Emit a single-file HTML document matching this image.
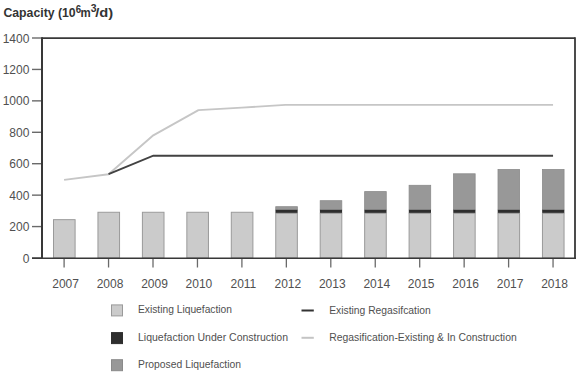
<!DOCTYPE html><html><head><meta charset="utf-8"><style>html,body{margin:0;padding:0;background:#fff;}svg{display:block;font-family:"Liberation Sans",sans-serif;}</style></head><body>
<svg width="580" height="379" viewBox="0 0 580 379">
<g fill="#333" style="font-weight:bold">
<text x="3.4" y="16.9" font-size="12.8" textLength="72.3" lengthAdjust="spacingAndGlyphs">Capacity (10</text>
<text x="75.7" y="12.6" font-size="10" textLength="5.4" lengthAdjust="spacingAndGlyphs">6</text>
<text x="80.5" y="16.9" font-size="12.8" textLength="10.2" lengthAdjust="spacingAndGlyphs">m</text>
<text x="90.7" y="12.1" font-size="10" textLength="5.8" lengthAdjust="spacingAndGlyphs">3</text>
<text x="95.2" y="16.9" font-size="12.8" textLength="18" lengthAdjust="spacingAndGlyphs">/d)</text>
</g>
<line x1="32" y1="258.00" x2="42" y2="258.00" stroke="#6a6a6a" stroke-width="1.4"/>
<text x="29.4" y="262.60" font-size="12" fill="#505050" text-anchor="end">0</text>
<line x1="32" y1="226.57" x2="42" y2="226.57" stroke="#6a6a6a" stroke-width="1.4"/>
<text x="29.4" y="231.17" font-size="12" fill="#505050" text-anchor="end">200</text>
<line x1="32" y1="195.14" x2="42" y2="195.14" stroke="#6a6a6a" stroke-width="1.4"/>
<text x="29.4" y="199.74" font-size="12" fill="#505050" text-anchor="end">400</text>
<line x1="32" y1="163.71" x2="42" y2="163.71" stroke="#6a6a6a" stroke-width="1.4"/>
<text x="29.4" y="168.31" font-size="12" fill="#505050" text-anchor="end">600</text>
<line x1="32" y1="132.29" x2="42" y2="132.29" stroke="#6a6a6a" stroke-width="1.4"/>
<text x="29.4" y="136.89" font-size="12" fill="#505050" text-anchor="end">800</text>
<line x1="32" y1="100.86" x2="42" y2="100.86" stroke="#6a6a6a" stroke-width="1.4"/>
<text x="29.4" y="105.46" font-size="12" fill="#505050" text-anchor="end">1000</text>
<line x1="32" y1="69.43" x2="42" y2="69.43" stroke="#6a6a6a" stroke-width="1.4"/>
<text x="29.4" y="74.03" font-size="12" fill="#505050" text-anchor="end">1200</text>
<line x1="32" y1="38.00" x2="42" y2="38.00" stroke="#6a6a6a" stroke-width="1.4"/>
<text x="29.4" y="42.60" font-size="12" fill="#505050" text-anchor="end">1400</text>
<rect x="53.50" y="219.66" width="21.6" height="38.34" fill="#cbcbcb" stroke="#9a9a9a" stroke-width="1"/>
<line x1="64.10" y1="259" x2="64.10" y2="267.5" stroke="#6a6a6a" stroke-width="1.3"/>
<text x="65.60" y="287.6" font-size="12" fill="#505050" text-anchor="middle">2007</text>
<rect x="97.95" y="212.27" width="21.6" height="45.73" fill="#cbcbcb" stroke="#9a9a9a" stroke-width="1"/>
<line x1="108.55" y1="259" x2="108.55" y2="267.5" stroke="#6a6a6a" stroke-width="1.3"/>
<text x="110.05" y="287.6" font-size="12" fill="#505050" text-anchor="middle">2008</text>
<rect x="142.40" y="212.27" width="21.6" height="45.73" fill="#cbcbcb" stroke="#9a9a9a" stroke-width="1"/>
<line x1="153.00" y1="259" x2="153.00" y2="267.5" stroke="#6a6a6a" stroke-width="1.3"/>
<text x="154.50" y="287.6" font-size="12" fill="#505050" text-anchor="middle">2009</text>
<rect x="186.85" y="212.27" width="21.6" height="45.73" fill="#cbcbcb" stroke="#9a9a9a" stroke-width="1"/>
<line x1="197.45" y1="259" x2="197.45" y2="267.5" stroke="#6a6a6a" stroke-width="1.3"/>
<text x="198.95" y="287.6" font-size="12" fill="#505050" text-anchor="middle">2010</text>
<rect x="231.30" y="212.27" width="21.6" height="45.73" fill="#cbcbcb" stroke="#9a9a9a" stroke-width="1"/>
<line x1="241.90" y1="259" x2="241.90" y2="267.5" stroke="#6a6a6a" stroke-width="1.3"/>
<text x="243.40" y="287.6" font-size="12" fill="#505050" text-anchor="middle">2011</text>
<rect x="275.75" y="206.70" width="21.6" height="3.10" fill="#989898" stroke="#8a8a8a" stroke-width="0.8"/>
<rect x="275.45" y="209.8" width="22.200000000000003" height="3.5" fill="#2e2e2e"/>
<rect x="275.75" y="213.3" width="21.6" height="44.70" fill="#cbcbcb" stroke="#9a9a9a" stroke-width="1"/>
<line x1="286.35" y1="259" x2="286.35" y2="267.5" stroke="#6a6a6a" stroke-width="1.3"/>
<text x="287.85" y="287.6" font-size="12" fill="#505050" text-anchor="middle">2012</text>
<rect x="320.20" y="200.70" width="21.6" height="9.10" fill="#989898" stroke="#8a8a8a" stroke-width="0.8"/>
<rect x="319.90" y="209.8" width="22.200000000000003" height="3.5" fill="#2e2e2e"/>
<rect x="320.20" y="213.3" width="21.6" height="44.70" fill="#cbcbcb" stroke="#9a9a9a" stroke-width="1"/>
<line x1="330.80" y1="259" x2="330.80" y2="267.5" stroke="#6a6a6a" stroke-width="1.3"/>
<text x="332.30" y="287.6" font-size="12" fill="#505050" text-anchor="middle">2013</text>
<rect x="364.65" y="191.60" width="21.6" height="18.20" fill="#989898" stroke="#8a8a8a" stroke-width="0.8"/>
<rect x="364.35" y="209.8" width="22.200000000000003" height="3.5" fill="#2e2e2e"/>
<rect x="364.65" y="213.3" width="21.6" height="44.70" fill="#cbcbcb" stroke="#9a9a9a" stroke-width="1"/>
<line x1="375.25" y1="259" x2="375.25" y2="267.5" stroke="#6a6a6a" stroke-width="1.3"/>
<text x="376.75" y="287.6" font-size="12" fill="#505050" text-anchor="middle">2014</text>
<rect x="409.10" y="185.30" width="21.6" height="24.50" fill="#989898" stroke="#8a8a8a" stroke-width="0.8"/>
<rect x="408.80" y="209.8" width="22.200000000000003" height="3.5" fill="#2e2e2e"/>
<rect x="409.10" y="213.3" width="21.6" height="44.70" fill="#cbcbcb" stroke="#9a9a9a" stroke-width="1"/>
<line x1="419.70" y1="259" x2="419.70" y2="267.5" stroke="#6a6a6a" stroke-width="1.3"/>
<text x="421.20" y="287.6" font-size="12" fill="#505050" text-anchor="middle">2015</text>
<rect x="453.55" y="173.80" width="21.6" height="36.00" fill="#989898" stroke="#8a8a8a" stroke-width="0.8"/>
<rect x="453.25" y="209.8" width="22.200000000000003" height="3.5" fill="#2e2e2e"/>
<rect x="453.55" y="213.3" width="21.6" height="44.70" fill="#cbcbcb" stroke="#9a9a9a" stroke-width="1"/>
<line x1="464.15" y1="259" x2="464.15" y2="267.5" stroke="#6a6a6a" stroke-width="1.3"/>
<text x="465.65" y="287.6" font-size="12" fill="#505050" text-anchor="middle">2016</text>
<rect x="498.00" y="169.50" width="21.6" height="40.30" fill="#989898" stroke="#8a8a8a" stroke-width="0.8"/>
<rect x="497.70" y="209.8" width="22.200000000000003" height="3.5" fill="#2e2e2e"/>
<rect x="498.00" y="213.3" width="21.6" height="44.70" fill="#cbcbcb" stroke="#9a9a9a" stroke-width="1"/>
<line x1="508.60" y1="259" x2="508.60" y2="267.5" stroke="#6a6a6a" stroke-width="1.3"/>
<text x="510.10" y="287.6" font-size="12" fill="#505050" text-anchor="middle">2017</text>
<rect x="542.45" y="169.50" width="21.6" height="40.30" fill="#989898" stroke="#8a8a8a" stroke-width="0.8"/>
<rect x="542.15" y="209.8" width="22.200000000000003" height="3.5" fill="#2e2e2e"/>
<rect x="542.45" y="213.3" width="21.6" height="44.70" fill="#cbcbcb" stroke="#9a9a9a" stroke-width="1"/>
<line x1="553.05" y1="259" x2="553.05" y2="267.5" stroke="#6a6a6a" stroke-width="1.3"/>
<text x="554.55" y="287.6" font-size="12" fill="#505050" text-anchor="middle">2018</text>
<polyline fill="none" stroke="#c6c6c6" stroke-width="1.9" stroke-linejoin="round" points="64.10,179.90 108.55,174.20 153.30,135.30 198.45,110.10 241.90,107.60 285.35,104.90 553.05,104.90"/>
<polyline fill="none" stroke="#424242" stroke-width="1.9" points="108.55,174.20 153.30,155.70 553.05,155.70"/>
<line x1="42" y1="38.1" x2="575" y2="38.1" stroke="#383838" stroke-width="1.8"/>
<line x1="575" y1="37.2" x2="575" y2="259" stroke="#383838" stroke-width="1.8"/>
<line x1="42" y1="37.2" x2="42" y2="259" stroke="#383838" stroke-width="2"/>
<line x1="32" y1="258.2" x2="576" y2="258.2" stroke="#383838" stroke-width="1.6"/>
<rect x="111.5" y="304.9" width="11" height="11" fill="#cbcbcb" stroke="#9a9a9a" stroke-width="1"/>
<rect x="111.5" y="332.6" width="11" height="11" fill="#2e2e2e" stroke="#2e2e2e" stroke-width="1"/>
<rect x="111.5" y="359.7" width="11" height="11" fill="#989898" stroke="#8a8a8a" stroke-width="1"/>
<g fill="#505050" font-size="11.7">
<text x="138" y="313.4" textLength="94" lengthAdjust="spacingAndGlyphs">Existing Liquefaction</text>
<text x="138" y="340.6" textLength="150" lengthAdjust="spacingAndGlyphs">Liquefaction Under Construction</text>
<text x="138" y="368.1" textLength="103" lengthAdjust="spacingAndGlyphs">Proposed Liquefaction</text>
<text x="329.2" y="313.5" textLength="101.5" lengthAdjust="spacingAndGlyphs">Existing Regasifcation</text>
<text x="329.2" y="341.3" textLength="187.5" lengthAdjust="spacingAndGlyphs">Regasification-Existing &amp; In Construction</text>
</g>
<line x1="301.5" y1="310.5" x2="313.8" y2="310.5" stroke="#333" stroke-width="2"/>
<line x1="301.5" y1="337.8" x2="313.8" y2="337.8" stroke="#c4c4c4" stroke-width="2"/>
</svg></body></html>
